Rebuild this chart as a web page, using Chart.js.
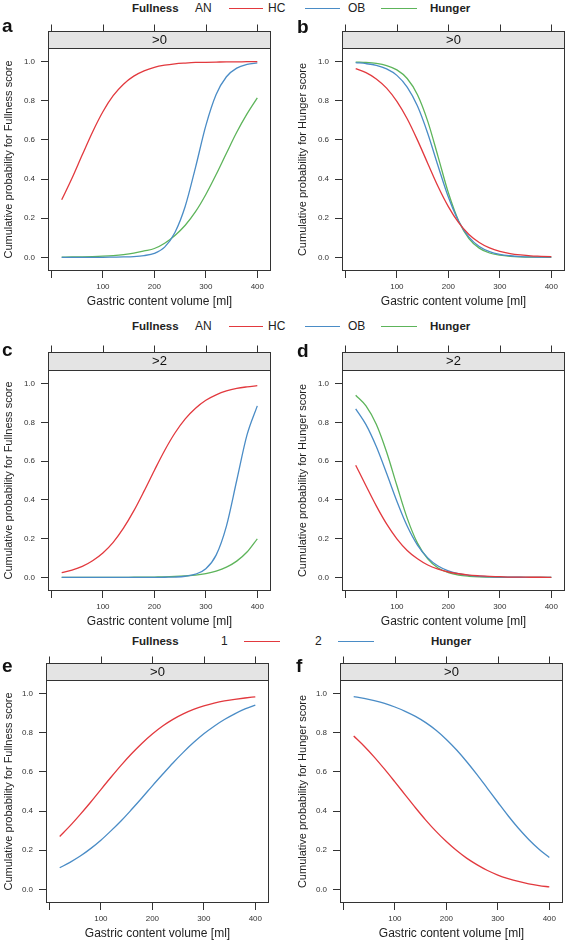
<!DOCTYPE html>
<html>
<head>
<meta charset="utf-8">
<script src="https://cdn.jsdelivr.net/npm/chart.js@4/dist/chart.umd.min.js"></script>
<style>
  html,body{margin:0;padding:0;background:#fff;}
  body{position:relative;width:567px;height:943px;overflow:hidden;font-family:"Liberation Sans",Arial,Helvetica,sans-serif;color:#222;}
  .letter{position:absolute;font-weight:bold;font-size:19px;line-height:19px;color:#111;}
  .lt{position:absolute;font-size:12px;line-height:14px;white-space:nowrap;color:#222;}
  .lt.b{font-weight:bold;font-size:11.5px;}
  .ll{position:absolute;height:1px;}
</style>
</head>
<body>
<script>
// ---------- data ----------
const volumes = [20,40,60,80,100,120,140,160,180,200,220,240,260,280,300,320,340,360,380,400];
const xTicks = [0,100,200,300,400];
const yTicks = [0,0.2,0.4,0.6,0.8,1.0];
const groups3 = ['AN','HC','OB'];
const groups2 = ['1','2'];

// a: Fullness score > 0
const fullnessGt0_AN = [0.294,0.404,0.524,0.641,0.744,0.826,0.885,0.926,0.953,0.971,0.982,0.989,0.993,0.996,0.997,0.998,0.999,0.999,1.0,1.0];
const fullnessGt0_HC = [0,0,0,0,0,0.001,0.002,0.004,0.009,0.02,0.052,0.127,0.261,0.46,0.673,0.832,0.923,0.967,0.986,0.994];
const fullnessGt0_OB = [0.001,0.0015,0.0024,0.0037,0.0058,0.0089,0.0138,0.0213,0.0326,0.045,0.072,0.112,0.164,0.233,0.321,0.423,0.532,0.639,0.733,0.815];
// b: Hunger score > 0
const hungerGt0_AN = [0.965,0.944,0.912,0.865,0.797,0.708,0.599,0.48,0.362,0.259,0.177,0.117,0.076,0.048,0.03,0.019,0.012,0.007,0.005,0.003];
const hungerGt0_HC = [0.995,0.99,0.981,0.963,0.93,0.87,0.773,0.633,0.467,0.308,0.184,0.103,0.055,0.029,0.015,0.008,0.004,0.002,0.001,0.001];
const hungerGt0_OB = [0.998,0.996,0.991,0.98,0.958,0.914,0.831,0.695,0.515,0.33,0.186,0.096,0.047,0.022,0.011,0.005,0.002,0.001,0.001,0];
// c: Fullness score > 2
const fullnessGt2_AN = [0.025,0.038,0.057,0.086,0.126,0.181,0.254,0.343,0.445,0.552,0.655,0.745,0.818,0.873,0.914,0.942,0.962,0.975,0.983,0.989];
const fullnessGt2_HC = [0,0,0,0,0,0,0,0,0,0,0.001,0.002,0.006,0.017,0.045,0.115,0.265,0.5,0.735,0.885];
const fullnessGt2_OB = [0,0,0,0,0,0,0,0.001,0.001,0.002,0.003,0.005,0.008,0.012,0.02,0.033,0.053,0.084,0.131,0.199];
// d: Hunger score > 2
const hungerGt2_AN = [0.579,0.473,0.369,0.276,0.199,0.139,0.096,0.064,0.043,0.028,0.019,0.012,0.008,0.005,0.004,0.002,0.002,0.001,0.001,0];
const hungerGt2_HC = [0.87,0.788,0.675,0.537,0.393,0.265,0.167,0.101,0.059,0.034,0.019,0.011,0.006,0.003,0.002,0.001,0.001,0,0,0];
const hungerGt2_OB = [0.94,0.885,0.79,0.647,0.474,0.306,0.177,0.096,0.049,0.025,0.012,0.006,0.003,0.002,0.001,0,0,0,0,0];
// e: Fullness score > 0, groups 1 / 2
const fullnessGt0_1 = [0.27,0.324,0.383,0.445,0.51,0.574,0.636,0.694,0.747,0.794,0.835,0.869,0.897,0.92,0.938,0.952,0.963,0.971,0.978,0.984];
const fullnessGt0_2 = [0.11,0.138,0.17,0.208,0.251,0.3,0.352,0.409,0.468,0.529,0.588,0.646,0.7,0.75,0.795,0.834,0.868,0.897,0.922,0.942];
// f: Hunger score > 0, groups 1 / 2
const hungerGt0_1 = [0.784,0.733,0.676,0.614,0.549,0.483,0.417,0.354,0.296,0.244,0.198,0.158,0.125,0.096,0.073,0.055,0.04,0.028,0.019,0.012];
const hungerGt0_2 = [0.985,0.976,0.964,0.95,0.932,0.91,0.884,0.852,0.813,0.766,0.712,0.651,0.585,0.515,0.445,0.376,0.312,0.255,0.205,0.162];

// ---------- styling ----------
const COLORS = ['#e2393e','#4a8cc6','#5db45a'];
const FONT = '"Liberation Sans", Arial, Helvetica, sans-serif';
Chart.defaults.font.family = FONT;
Chart.defaults.color = '#222';

const latticePlugin = {
  id: 'lattice',
  afterDatasetsDraw(chart, args, o) {
    const {ctx, chartArea: a, scales: {x}} = chart;
    const L = Math.round(a.left) + 0.5, R = Math.round(a.right) - 0.5;
    const T = Math.round(a.top) + 0.5, B = Math.round(a.bottom) - 0.5;
    const sT = Math.round(a.top - o.stripH) + 0.5;
    ctx.save();
    ctx.fillStyle = '#e4e4e4';
    ctx.fillRect(L, sT, R - L, T - sT);
    ctx.strokeStyle = '#333';
    ctx.lineWidth = 1;
    ctx.strokeRect(L, sT, R - L, B - sT);
    ctx.beginPath();
    ctx.moveTo(L, T); ctx.lineTo(R, T);
    xTicks.forEach(v => {
      const px = Math.round(x.getPixelForValue(v)) + 0.5;
      ctx.moveTo(px, sT); ctx.lineTo(px, sT - 7);
    });
    ctx.stroke();
    ctx.fillStyle = '#111';
    ctx.font = '13px ' + FONT;
    ctx.textAlign = 'center';
    ctx.textBaseline = 'middle';
    ctx.fillText(o.label, (a.left + a.right) / 2, a.top - o.stripH / 2 + 0.5);
    ctx.restore();
  }
};

function makePanel(p) {
  const cv = document.createElement('canvas');
  cv.width = p.w; cv.height = p.h;
  cv.style.cssText = `position:absolute;left:${p.left}px;top:${p.top}px;width:${p.w}px;height:${p.h}px;`;
  document.body.appendChild(cv);
  new Chart(cv, {
    type: 'line',
    data: {
      datasets: p.series.map((s, i) => ({
        label: s.name,
        data: volumes.map((v, k) => ({x: v, y: s.values[k]})),
        borderColor: COLORS[i],
        borderWidth: 1.3,
        pointRadius: 0,
        cubicInterpolationMode: 'monotone',
        fill: false
      }))
    },
    options: {
      responsive: false, animation: false, devicePixelRatio: 1,
      layout: {padding: {top: p.padTop, left: 0, right: p.w - p.yw - p.plotW, bottom: 0}},
      plugins: {legend: {display: false}, tooltip: {enabled: false},
                lattice: {stripH: p.strip, label: p.stripLabel}},
      scales: {
        x: {
          type: 'linear', position: 'bottom', min: -6.6, max: 426.6,
          afterBuildTicks: s => { s.ticks = xTicks.map(v => ({value: v})); },
          afterFit: s => { s.height = 40; },
          ticks: {autoSkip: false, maxRotation: 0, padding: 4, font: {size: 8}, color: '#333',
                  callback: v => (v === 0 ? '' : String(v))},
          grid: {display: true, drawOnChartArea: false, drawTicks: true, tickLength: 7, color: '#333', lineWidth: 1},
          border: {display: false},
          title: {display: true, text: 'Gastric content volume [ml]', font: {size: 12}, color: '#222',
                  padding: {top: 0, bottom: 2.3}}
        },
        y: {
          type: 'linear', position: 'left', min: p.ymin, max: p.ymax,
          afterBuildTicks: s => { s.ticks = yTicks.map(v => ({value: v})); },
          afterFit: s => { s.width = p.yw; },
          ticks: {autoSkip: false, padding: 6, font: {size: 8}, color: '#333',
                  callback: v => Number(v).toFixed(1)},
          grid: {display: true, drawOnChartArea: false, drawTicks: true, tickLength: 7, color: '#333', lineWidth: 1},
          border: {display: false},
          title: {display: true, text: p.ytitle, font: {size: 11}, color: '#222', padding: {top: 2, bottom: 0}}
        }
      }
    },
    plugins: [latticePlugin]
  });
}

const FT = 'Cumulative probability for Fullness score';
const HT = 'Cumulative probability for Hunger score';
const panels = [
  {left: 0,   top: 18,  w: 283, h: 293, yw: 48, plotW: 223, padTop: 30, strip: 17, stripLabel: '>0', ytitle: FT, ymin: -0.07, ymax: 1.07,
   series: [{name: groups3[0], values: fullnessGt0_AN}, {name: groups3[1], values: fullnessGt0_HC}, {name: groups3[2], values: fullnessGt0_OB}]},
  {left: 294, top: 18,  w: 273, h: 293, yw: 48, plotW: 223, padTop: 30, strip: 17, stripLabel: '>0', ytitle: HT, ymin: -0.07, ymax: 1.07,
   series: [{name: groups3[0], values: hungerGt0_AN}, {name: groups3[1], values: hungerGt0_HC}, {name: groups3[2], values: hungerGt0_OB}]},
  {left: 0,   top: 340, w: 283, h: 291, yw: 48, plotW: 223, padTop: 30, strip: 18, stripLabel: '>2', ytitle: FT, ymin: -0.07, ymax: 1.07,
   series: [{name: groups3[0], values: fullnessGt2_AN}, {name: groups3[1], values: fullnessGt2_HC}, {name: groups3[2], values: fullnessGt2_OB}]},
  {left: 294, top: 340, w: 273, h: 291, yw: 48, plotW: 223, padTop: 30, strip: 18, stripLabel: '>2', ytitle: HT, ymin: -0.07, ymax: 1.07,
   series: [{name: groups3[0], values: hungerGt2_AN}, {name: groups3[1], values: hungerGt2_HC}, {name: groups3[2], values: hungerGt2_OB}]},
  {left: 0,   top: 650, w: 283, h: 293, yw: 46, plotW: 223, padTop: 30, strip: 17, stripLabel: '>0', ytitle: FT, ymin: -0.07, ymax: 1.07,
   series: [{name: groups2[0], values: fullnessGt0_1}, {name: groups2[1], values: fullnessGt0_2}]},
  {left: 294, top: 650, w: 273, h: 293, yw: 46, plotW: 223, padTop: 30, strip: 17, stripLabel: '>0', ytitle: HT, ymin: -0.07, ymax: 1.07,
   series: [{name: groups2[0], values: hungerGt0_1}, {name: groups2[1], values: hungerGt0_2}]}
];
panels.forEach(makePanel);

// ---------- legends ----------
function addText(txt, left, cy, bold) {
  const d = document.createElement('div');
  d.className = 'lt' + (bold ? ' b' : '');
  d.textContent = txt;
  d.style.left = left + 'px';
  d.style.top = (cy - 7) + 'px';
  document.body.appendChild(d);
}
function addLine(x1, x2, cy, color) {
  const d = document.createElement('div');
  d.className = 'll';
  d.style.left = x1 + 'px';
  d.style.width = (x2 - x1) + 'px';
  d.style.top = Math.round(cy) + 'px';
  d.style.backgroundColor = color;
  document.body.appendChild(d);
}
function legend3(cy) {
  addText('Fullness', 132, cy, true);
  const tx = [195, 268, 348];
  const lx = [[229, 263], [305, 340], [381, 417]];
  groups3.forEach((g, i) => { addText(g, tx[i], cy, false); addLine(lx[i][0], lx[i][1], cy, COLORS[i]); });
  addText('Hunger', 430, cy, true);
}
function legend2(cy) {
  addText('Fullness', 132, cy, true);
  const tx = [221, 315];
  const lx = [[244, 280], [338, 374]];
  groups2.forEach((g, i) => { addText(g, tx[i], cy, false); addLine(lx[i][0], lx[i][1], cy, COLORS[i]); });
  addText('Hunger', 431, cy, true);
}
legend3(8);
legend3(326);
legend2(641);

// ---------- panel letters ----------
[['a', 2, 16], ['b', 297, 17], ['c', 2, 340], ['d', 297, 341], ['e', 2, 656], ['f', 296, 656]].forEach(([t, x, y]) => {
  const d = document.createElement('div');
  d.className = 'letter';
  d.textContent = t;
  d.style.left = x + 'px';
  d.style.top = y + 'px';
  document.body.appendChild(d);
});
</script>
</body>
</html>
